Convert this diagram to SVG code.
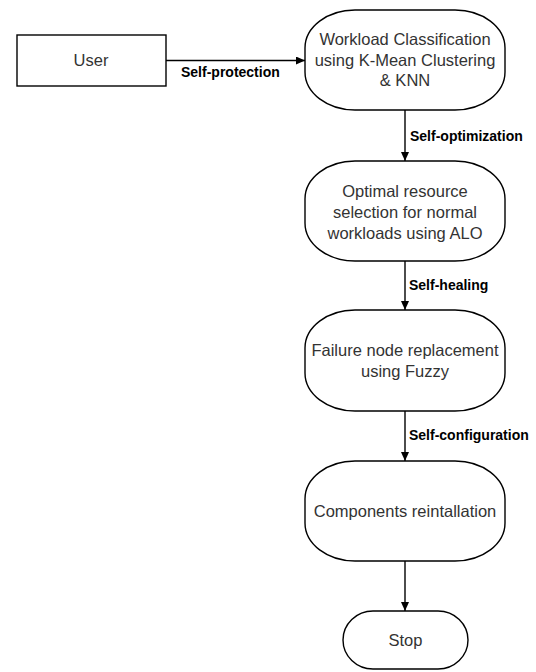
<svg xmlns="http://www.w3.org/2000/svg" width="536" height="672" viewBox="0 0 536 672">
<defs>
<marker id="arr" markerWidth="10" markerHeight="10" refX="9" refY="4" orient="auto" markerUnits="userSpaceOnUse">
<path d="M0,0 L9,4 L0,8 Z" fill="#000"/>
</marker>
<style>
.node{fill:#fff;stroke:#000;stroke-width:1.4}
.nt{font-family:"Liberation Sans",Arial,sans-serif;font-size:16.5px;fill:#333;text-anchor:middle}
.lbl{font-family:"Liberation Sans",Arial,sans-serif;font-size:14px;font-weight:bold;fill:#000}
.conn{stroke:#000;stroke-width:1.4;fill:none;marker-end:url(#arr)}
</style>
</defs>
<rect width="536" height="672" fill="#fff"/>
<g id="connectors">
<line class="conn" x1="166" y1="60.5" x2="305" y2="60.5"/>
<line class="conn" x1="405" y1="110" x2="405" y2="161"/>
<line class="conn" x1="405" y1="261" x2="405" y2="310"/>
<line class="conn" x1="405" y1="411" x2="405" y2="461"/>
<line class="conn" x1="405" y1="561" x2="405" y2="611"/>
<text class="lbl" x="181" y="77">Self-protection</text>
<text class="lbl" x="410" y="141">Self-optimization</text>
<text class="lbl" x="409" y="290">Self-healing</text>
<text class="lbl" x="409" y="440">Self-configuration</text>
</g>
<g id="user">
<rect class="node" x="17" y="35" width="149" height="51" stroke-width="1.6"/>
<text class="nt" x="91" y="66">User</text>
</g>
<g id="classification">
<rect class="node" x="305" y="10" width="200" height="100" rx="50" ry="38"/>
<text class="nt" x="405" y="44.5">Workload Classification</text>
<text class="nt" x="405" y="65.5">using K-Mean Clustering</text>
<text class="nt" x="405" y="86">&amp; KNN</text>
</g>
<g id="selection">
<rect class="node" x="305" y="161" width="200" height="100" rx="50" ry="38"/>
<text class="nt" x="405" y="197">Optimal resource</text>
<text class="nt" x="405" y="218">selection for normal</text>
<text class="nt" x="405" y="239">workloads using ALO</text>
</g>
<g id="replacement">
<rect class="node" x="305" y="310" width="200" height="101" rx="50" ry="38"/>
<text class="nt" x="405" y="355.5">Failure node replacement</text>
<text class="nt" x="405" y="376.5">using Fuzzy</text>
</g>
<g id="reinstallation">
<rect class="node" x="305" y="461" width="200" height="100" rx="50" ry="38"/>
<text class="nt" x="405" y="516.5">Components reintallation</text>
</g>
<g id="stop">
<rect class="node" x="343" y="611" width="125" height="58" rx="30" ry="29"/>
<text class="nt" x="405.5" y="646">Stop</text>
</g>
</svg>
